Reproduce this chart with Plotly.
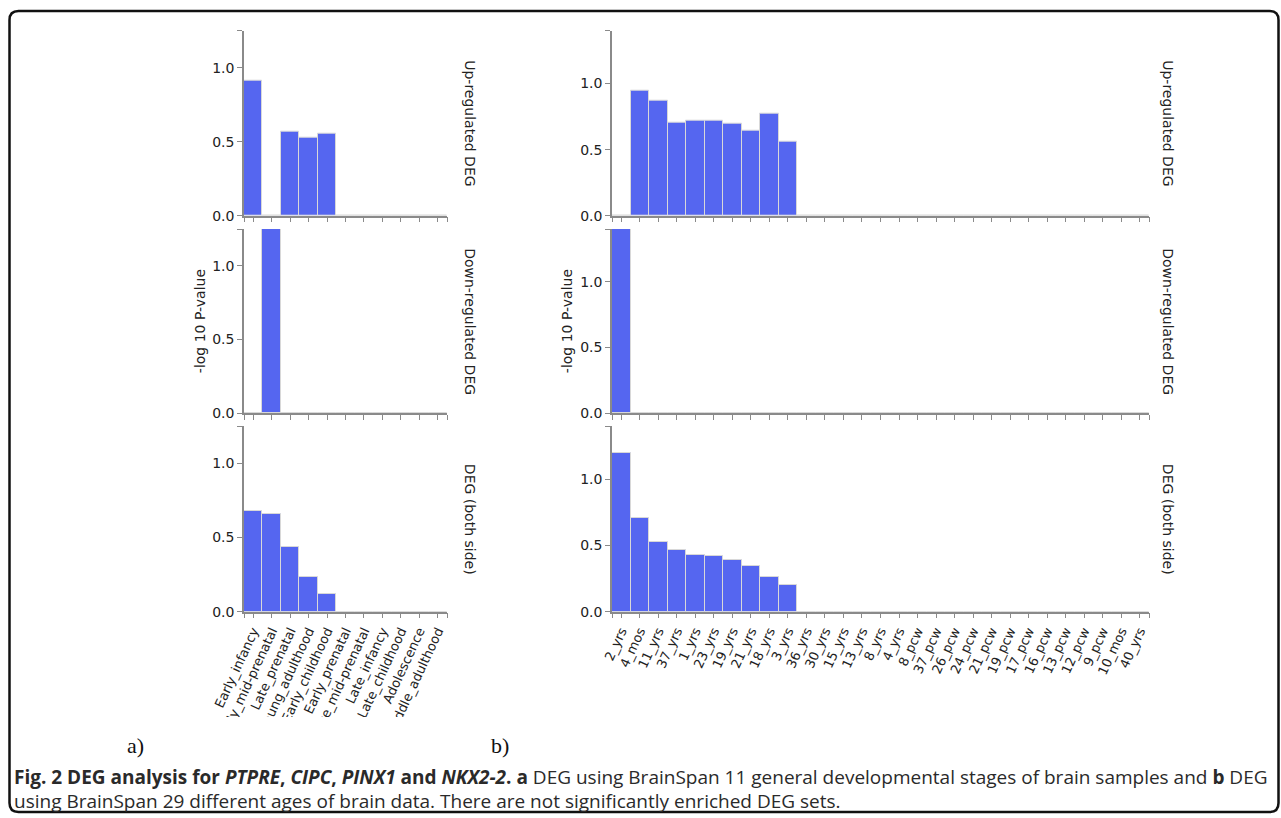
import plotly.graph_objects as go

W, H = 1281, 818

# ---------------- data ----------------
stages_a = ["Early_infancy", "Early_mid-prenatal", "Late_prenatal", "Young_adulthood",
            "Early_childhood", "Early_prenatal", "Late_mid-prenatal", "Late_infancy",
            "Late_childhood", "Adolescence", "Middle_adulthood"]
up_a = [0.91, 0.0, 0.565, 0.525, 0.553, 0, 0, 0, 0, 0, 0]
down_a = [0.0, 1.25, 0, 0, 0, 0, 0, 0, 0, 0, 0]
both_a = [0.678, 0.655, 0.434, 0.232, 0.121, 0, 0, 0, 0, 0, 0]

ages_b = ["2_yrs", "4_mos", "11_yrs", "37_yrs", "1_yrs", "23_yrs", "19_yrs", "21_yrs",
          "18_yrs", "3_yrs", "36_yrs", "30_yrs", "15_yrs", "13_yrs", "8_yrs", "4_yrs",
          "8_pcw", "37_pcw", "26_pcw", "24_pcw", "21_pcw", "19_pcw", "17_pcw", "16_pcw",
          "13_pcw", "12_pcw", "9_pcw", "10_mos", "40_yrs"]
up_b = [0.0, 0.945, 0.872, 0.705, 0.72, 0.72, 0.693, 0.645, 0.771, 0.557] + [0] * 19
down_b = [1.40] + [0] * 28
both_b = [1.196, 0.710, 0.526, 0.468, 0.428, 0.423, 0.388, 0.345, 0.264, 0.2015] + [0] * 19

row_titles = ["Up-regulated DEG", "Down-regulated DEG", "DEG (both side)"]
y_title = "-log 10 P-value"
ytick_vals = [0.0, 0.5, 1.0]
ytick_text = ["0.0", "0.5", "1.0"]

caption1 = ("<b>Fig. 2 DEG analysis for <i>PTPRE</i>, <i>CIPC</i>, <i>PINX1</i> and <i>NKX2-2</i>. a</b> "
            "DEG using BrainSpan 11 general developmental stages of brain samples and <b>b</b> DEG")
caption2 = "using BrainSpan 29 different ages of brain data. There are not significantly enriched DEG sets."

# ---------------- layout helpers ----------------
def px_x(p):
    return p / W

def px_y(p):
    return 1 - p / H

rows_px = [(30.7, 215.7), (229.0, 413.3), (426.0, 611.7)]
panels = [
    dict(cats=stages_a, series=[up_a, down_a, both_a], xdom=(244, 447), ymax=1.25,
         rowlab_x=470, ytitle_x=200),
    dict(cats=ages_b, series=[up_b, down_b, both_b], xdom=(612, 1149), ymax=1.40,
         rowlab_x=1168, ytitle_x=567),
]

BAR = "#5566F0"
AX = "#8a8a8a"
TXT = "#222222"
FONT = "DejaVu Sans"

fig = go.Figure()
layout = {}
annotations = []
k = 0
for p in panels:
    n = len(p["cats"])
    xs = list(range(n))
    for r, vals in enumerate(p["series"]):
        k += 1
        sx = "" if k == 1 else str(k)
        fig.add_trace(go.Bar(
            x=xs, y=vals, xaxis="x" + sx, yaxis="y" + sx,
            marker=dict(color=BAR, line=dict(color="#d8d8d8", width=1)),
            hoverinfo="skip", showlegend=False,
        ))
        top, bot = rows_px[r]
        last = (r == 2)
        layout["xaxis" + sx] = dict(
            domain=[px_x(p["xdom"][0]), px_x(p["xdom"][1])],
            anchor="y" + sx, range=[-0.5, n - 0.5], automargin=False,
            tickmode="array",
            tickvals=[-0.5] + xs + [n - 0.5],
            ticktext=[""] + (p["cats"] if last else [""] * n) + [""],
            tickangle=-65, ticks="outside", ticklen=5, tickcolor=AX,
            showline=True, linecolor=AX, linewidth=1.5,
            showgrid=False, zeroline=False, fixedrange=True,
            tickfont=dict(family=FONT, size=13, color=TXT),
        )
        layout["yaxis" + sx] = dict(
            domain=[px_y(bot), px_y(top)],
            anchor="x" + sx, range=[0, p["ymax"]], automargin=False,
            tickmode="array",
            tickvals=ytick_vals + [p["ymax"]],
            ticktext=ytick_text + [""],
            ticks="outside", ticklen=5, tickcolor=AX,
            showline=True, linecolor=AX, linewidth=1.5,
            showgrid=False, zeroline=False, fixedrange=True,
            tickfont=dict(family=FONT, size=14, color=TXT),
        )
        annotations.append(dict(
            text=row_titles[r], x=px_x(p["rowlab_x"]), y=px_y((top + bot) / 2),
            xref="paper", yref="paper", showarrow=False, textangle=90,
            font=dict(family=FONT, size=14, color=TXT), xanchor="center", yanchor="middle",
        ))
    annotations.append(dict(
        text=y_title, x=px_x(p["ytitle_x"]), y=px_y((rows_px[1][0] + rows_px[1][1]) / 2),
        xref="paper", yref="paper", showarrow=False, textangle=-90,
        font=dict(family=FONT, size=14, color=TXT), xanchor="center", yanchor="middle",
    ))

for lab, xp in [("a)", 135), ("b)", 500)]:
    annotations.append(dict(
        text=lab, x=px_x(xp), y=px_y(745), xref="paper", yref="paper", showarrow=False,
        font=dict(family="Liberation Serif", size=22, color="#111111"),
        xanchor="center", yanchor="middle",
    ))

annotations.append(dict(text=caption1, x=px_x(12), y=px_y(777), xref="paper", yref="paper",
                        showarrow=False, xanchor="left", yanchor="middle",
                        font=dict(family="Open Sans", size=19, color="#2a2a2a")))
annotations.append(dict(text=caption2, x=px_x(12), y=px_y(801), xref="paper", yref="paper",
                        showarrow=False, xanchor="left", yanchor="middle",
                        font=dict(family="Open Sans", size=19, color="#2a2a2a")))

# rounded frame
L, R, T, B = px_x(9.5), px_x(1278.5), px_y(11), px_y(812)
rx, ry = 9 / W, 9 / H
frame = (f"M {L+rx},{T} L {R-rx},{T} Q {R},{T} {R},{T-ry} L {R},{B+ry} Q {R},{B} {R-rx},{B} "
         f"L {L+rx},{B} Q {L},{B} {L},{B+ry} L {L},{T-ry} Q {L},{T} {L+rx},{T} Z")
shapes = [
    dict(type="rect", xref="paper", yref="paper", x0=px_x(180), x1=px_x(480),
         y0=px_y(765), y1=px_y(717), fillcolor="white", line=dict(width=0), layer="above"),
    dict(type="path", xref="paper", yref="paper", path=frame,
         line=dict(color="#111111", width=2.5), layer="above"),
]

fig.update_layout(
    template="none",
    width=W, height=H, margin=dict(l=0, r=0, t=0, b=0, pad=0, autoexpand=False),
    paper_bgcolor="white", plot_bgcolor="white",
    bargap=0, annotations=annotations, shapes=shapes, **layout,
)
fig.write_html("out.html", config={"displayModeBar": False},
               post_script="document.body.style.margin='0';document.body.style.overflow='hidden';")
